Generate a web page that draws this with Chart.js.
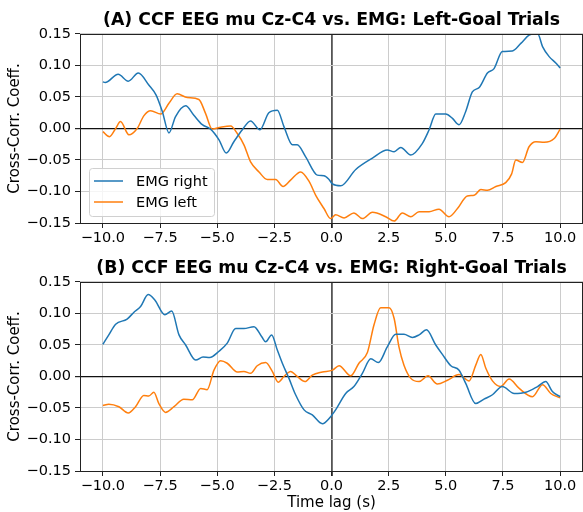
<!DOCTYPE html>
<html lang="en">
<head>
<meta charset="UTF-8" />
<title>CCF EEG mu Cz-C4 vs. EMG</title>
<style>
  body { margin: 0; background: #fff; }
  .panel { position: absolute; left: 0; width: 583px; height: 256px; }
</style>
</head>
<body>
<div class="panel" style="top:0"><canvas id="ccfLeftGoal" width="583" height="256"></canvas></div>
<div class="panel" style="top:256px"><canvas id="ccfRightGoal" width="583" height="256"></canvas></div>

<script src="https://cdn.jsdelivr.net/npm/chart.js"></script>
<script>
// axis ticks
const xTicks = [-10, -7.5, -5, -2.5, 0, 2.5, 5, 7.5, 10];
const yTicks = [-0.15, -0.10, -0.05, 0, 0.05, 0.10, 0.15];
const seriesNames = ['EMG right', 'EMG left'];
const seriesColors = ['#1f77b4', '#ff7f0e'];

// (A) Left-goal trials
const lagsA_right = [-10, -9.9, -9.33, -8.89, -8.45, -7.99, -7.67, -7.4, -7.11, -6.82, -6.38, -6.02, -5.65, -5.29, -4.92, -4.6, -4.27, -3.9, -3.54, -3.13, -2.74, -2.37, -2.08, -1.71, -1.5, -1.13, -0.62, -0.33, -0.11, 0.04, 0.4, 1.06, 1.79, 2.44, 2.74, 3.03, 3.47, 3.97, 4.27, 4.56, 5.0, 5.29, 5.58, 5.87, 6.16, 6.46, 6.82, 7.11, 7.47, 7.91, 8.28, 8.64, 9.01, 9.23, 9.52, 9.81, 10];
const ccfA_right = [0.074, 0.073, 0.086, 0.075, 0.088, 0.069, 0.053, 0.027, -0.007, 0.019, 0.036, 0.021, 0.006, -0.001, -0.018, -0.039, -0.021, -0.002, 0.012, -0.002, 0.025, 0.029, 0.003, -0.026, -0.026, -0.045, -0.074, -0.075, -0.081, -0.088, -0.091, -0.065, -0.047, -0.034, -0.037, -0.030, -0.042, -0.024, -0.002, 0.023, 0.023, 0.016, 0.006, 0.027, 0.058, 0.065, 0.088, 0.095, 0.122, 0.123, 0.135, 0.148, 0.151, 0.130, 0.114, 0.104, 0.096];
const lagsA_left = [-10, -9.71, -9.44, -9.23, -8.86, -8.5, -8.21, -7.91, -7.47, -7.11, -6.75, -6.31, -5.8, -5.51, -5.22, -4.85, -4.41, -4.12, -3.83, -3.54, -3.17, -2.81, -2.44, -2.12, -1.79, -1.35, -0.98, -0.69, -0.33, -0.04, 0.18, 0.55, 0.98, 1.35, 1.79, 2.37, 2.74, 3.1, 3.47, 3.83, 4.27, 4.7, 5.14, 5.51, 5.94, 6.24, 6.53, 6.82, 7.19, 7.62, 7.88, 8.06, 8.35, 8.64, 8.94, 9.3, 9.74, 10];
const ccfA_left = [-0.005, -0.013, 0.000, 0.011, -0.010, 0.000, 0.020, 0.028, 0.023, 0.040, 0.055, 0.049, 0.046, 0.024, -0.001, 0.002, 0.004, -0.008, -0.026, -0.053, -0.069, -0.081, -0.081, -0.092, -0.082, -0.069, -0.084, -0.106, -0.127, -0.143, -0.137, -0.142, -0.134, -0.143, -0.133, -0.140, -0.147, -0.134, -0.140, -0.132, -0.132, -0.128, -0.140, -0.127, -0.107, -0.106, -0.097, -0.098, -0.092, -0.086, -0.072, -0.050, -0.054, -0.029, -0.021, -0.022, -0.016, -0.001];

// (B) Right-goal trials
const lagsB_right = [-10, -9.74, -9.44, -8.94, -8.64, -8.35, -8.02, -7.72, -7.29, -6.99, -6.67, -6.38, -5.94, -5.62, -5.33, -4.92, -4.56, -4.19, -3.83, -3.39, -3.05, -2.88, -2.62, -2.37, -2.15, -1.86, -1.57, -1.2, -0.84, -0.4, -0.04, 0.18, 0.62, 0.98, 1.35, 1.72, 2.05, 2.44, 2.81, 3.17, 3.54, 3.83, 4.15, 4.56, 4.85, 5.22, 5.58, 5.87, 6.31, 6.67, 7.04, 7.47, 7.99, 8.5, 9.01, 9.37, 9.66, 10];
const ccfB_right = [0.051, 0.066, 0.083, 0.091, 0.102, 0.111, 0.130, 0.121, 0.098, 0.104, 0.066, 0.050, 0.026, 0.031, 0.030, 0.040, 0.053, 0.076, 0.076, 0.079, 0.063, 0.055, 0.066, 0.042, 0.021, -0.003, -0.029, -0.053, -0.061, -0.075, -0.064, -0.053, -0.027, -0.016, 0.005, 0.028, 0.022, 0.047, 0.067, 0.067, 0.062, 0.066, 0.074, 0.050, 0.035, 0.017, 0.010, -0.011, -0.043, -0.036, -0.029, -0.016, -0.027, -0.025, -0.016, -0.008, -0.024, -0.032];
const lagsB_left = [-10, -9.74, -9.3, -8.89, -8.57, -8.21, -7.99, -7.77, -7.55, -7.26, -6.89, -6.46, -6.09, -5.72, -5.44, -5.14, -4.85, -4.56, -4.12, -3.83, -3.54, -3.25, -2.88, -2.59, -2.33, -2.08, -1.79, -1.5, -1.16, -0.84, -0.4, 0.04, 0.33, 0.84, 1.2, 1.57, 1.86, 2.15, 2.52, 2.74, 2.95, 3.17, 3.47, 3.83, 4.22, 4.63, 5.07, 5.58, 6.02, 6.31, 6.53, 6.75, 7.04, 7.4, 7.77, 8.21, 8.79, 9.23, 9.59, 10];
const ccfB_left = [-0.046, -0.044, -0.048, -0.058, -0.048, -0.030, -0.031, -0.025, -0.043, -0.057, -0.048, -0.036, -0.037, -0.019, -0.021, 0.010, 0.025, 0.021, 0.007, 0.008, 0.005, 0.017, 0.022, 0.008, -0.009, 0.000, 0.008, 0.000, -0.008, 0.002, 0.007, 0.010, 0.017, 0.001, 0.021, 0.038, 0.082, 0.109, 0.109, 0.092, 0.047, 0.018, -0.003, -0.008, 0.001, -0.012, -0.006, 0.003, -0.007, 0.018, 0.035, 0.013, -0.007, -0.016, -0.004, -0.019, -0.032, -0.013, -0.027, -0.034];

Chart.defaults.font.family = '"DejaVu Sans", sans-serif';
Chart.defaults.color = '#000';

const minus = s => s.replace('-', '\u2212');

// full box around the plot, like matplotlib spines
const frame = {
  id: 'frame',
  afterDatasetsDraw(chart) {
    const { ctx, chartArea: a } = chart;
    ctx.save();
    ctx.strokeStyle = '#222';
    ctx.lineWidth = 1;
    ctx.strokeRect(Math.round(a.left) + 0.5, Math.round(a.top) + 0.5,
                   Math.round(a.right - a.left) - 1, Math.round(a.bottom - a.top));
    ctx.restore();
  }
};

// legend box sitting in the lower left of the plot
const insetLegend = {
  id: 'insetLegend',
  afterDraw(chart, args, opts) {
    if (!opts.show) return;
    const { ctx, chartArea: a } = chart;
    const x = a.left + 9, y = a.bottom - 55, w = 125, h = 48;
    ctx.save();
    ctx.fillStyle = 'rgba(255,255,255,0.8)';
    ctx.strokeStyle = '#d0d0d0';
    ctx.lineWidth = 1;
    ctx.beginPath();
    ctx.roundRect(x + 0.5, y + 0.5, w, h, 3);
    ctx.fill();
    ctx.stroke();
    ctx.font = '14.5px "DejaVu Sans"';
    ctx.textBaseline = 'middle';
    chart.data.datasets.forEach((ds, i) => {
      const ly = y + 13 + i * 21;
      ctx.strokeStyle = ds.borderColor;
      ctx.lineWidth = 1.5;
      ctx.beginPath();
      ctx.moveTo(x + 5, ly);
      ctx.lineTo(x + 34, ly);
      ctx.stroke();
      ctx.fillStyle = '#000';
      ctx.fillText(ds.label, x + 47, ly + 1);
    });
    ctx.restore();
  }
};

function series(lags, vals, i) {
  return {
    label: seriesNames[i],
    data: lags.map((l, k) => ({ x: l, y: vals[k] })),
    borderColor: seriesColors[i],
    backgroundColor: seriesColors[i],
    borderWidth: 1.5,
    pointRadius: 0,
    cubicInterpolationMode: 'monotone',
    fill: false
  };
}

function makeChart(id, title, datasets, cfg) {
  return new Chart(document.getElementById(id), {
    type: 'line',
    data: { datasets },
    plugins: [frame, insetLegend],
    options: {
      responsive: false,
      animation: false,
      devicePixelRatio: 1,
      layout: { padding: 0 },
      plugins: {
        legend: { display: false },
        tooltip: { enabled: false },
        insetLegend: { show: cfg.legend },
        title: {
          display: true,
          text: title,
          fullSize: false,
          font: { size: 17.3, weight: 'bold' },
          padding: cfg.titlePad
        }
      },
      scales: {
        x: {
          type: 'linear',
          min: -11,
          max: 11,
          afterBuildTicks: s => { s.ticks = xTicks.map(v => ({ value: v })); },
          afterFit: s => { s.height = cfg.xHeight; },
          border: { display: false },
          grid: {
            color: c => c.tick && c.tick.value === 0 ? '#555' : '#cccccc',
            lineWidth: c => c.tick && c.tick.value === 0 ? 1.8 : 1,
            tickColor: '#222',
            tickLength: 5
          },
          ticks: {
            font: { size: 14.5 },
            padding: 2,
            maxRotation: 0,
            callback: v => minus(v.toFixed(1))
          },
          title: {
            display: cfg.xTitle,
            text: 'Time lag (s)',
            font: { size: 15 },
            padding: { top: 0, bottom: 0 }
          }
        },
        y: {
          min: -0.15,
          max: 0.15,
          afterBuildTicks: s => { s.ticks = yTicks.map(v => ({ value: v })); },
          afterFit: s => { s.width = 80; },
          border: { display: false },
          grid: {
            color: c => c.tick && c.tick.value === 0 ? '#111' : '#cccccc',
            lineWidth: c => c.tick && c.tick.value === 0 ? 1.2 : 1,
            tickColor: '#222',
            tickLength: 5
          },
          ticks: {
            font: { size: 14.5 },
            padding: 4,
            callback: v => minus(v.toFixed(2))
          },
          title: {
            display: true,
            text: 'Cross-Corr. Coeff.',
            font: { size: 15 },
            padding: { top: 6, bottom: 0 }
          }
        }
      }
    }
  });
}

makeChart('ccfLeftGoal', '(A) CCF EEG mu Cz-C4 vs. EMG: Left-Goal Trials',
  [series(lagsA_right, ccfA_right, 0), series(lagsA_left, ccfA_left, 1)],
  { legend: true, xTitle: false, xHeight: 33, titlePad: { top: 10.6, bottom: 2.6 } });

makeChart('ccfRightGoal', '(B) CCF EEG mu Cz-C4 vs. EMG: Right-Goal Trials',
  [series(lagsB_right, ccfB_right, 0), series(lagsB_left, ccfB_left, 1)],
  { legend: false, xTitle: true, xHeight: 41, titlePad: { top: 2.1, bottom: 3.1 } });
</script>
</body>
</html>
